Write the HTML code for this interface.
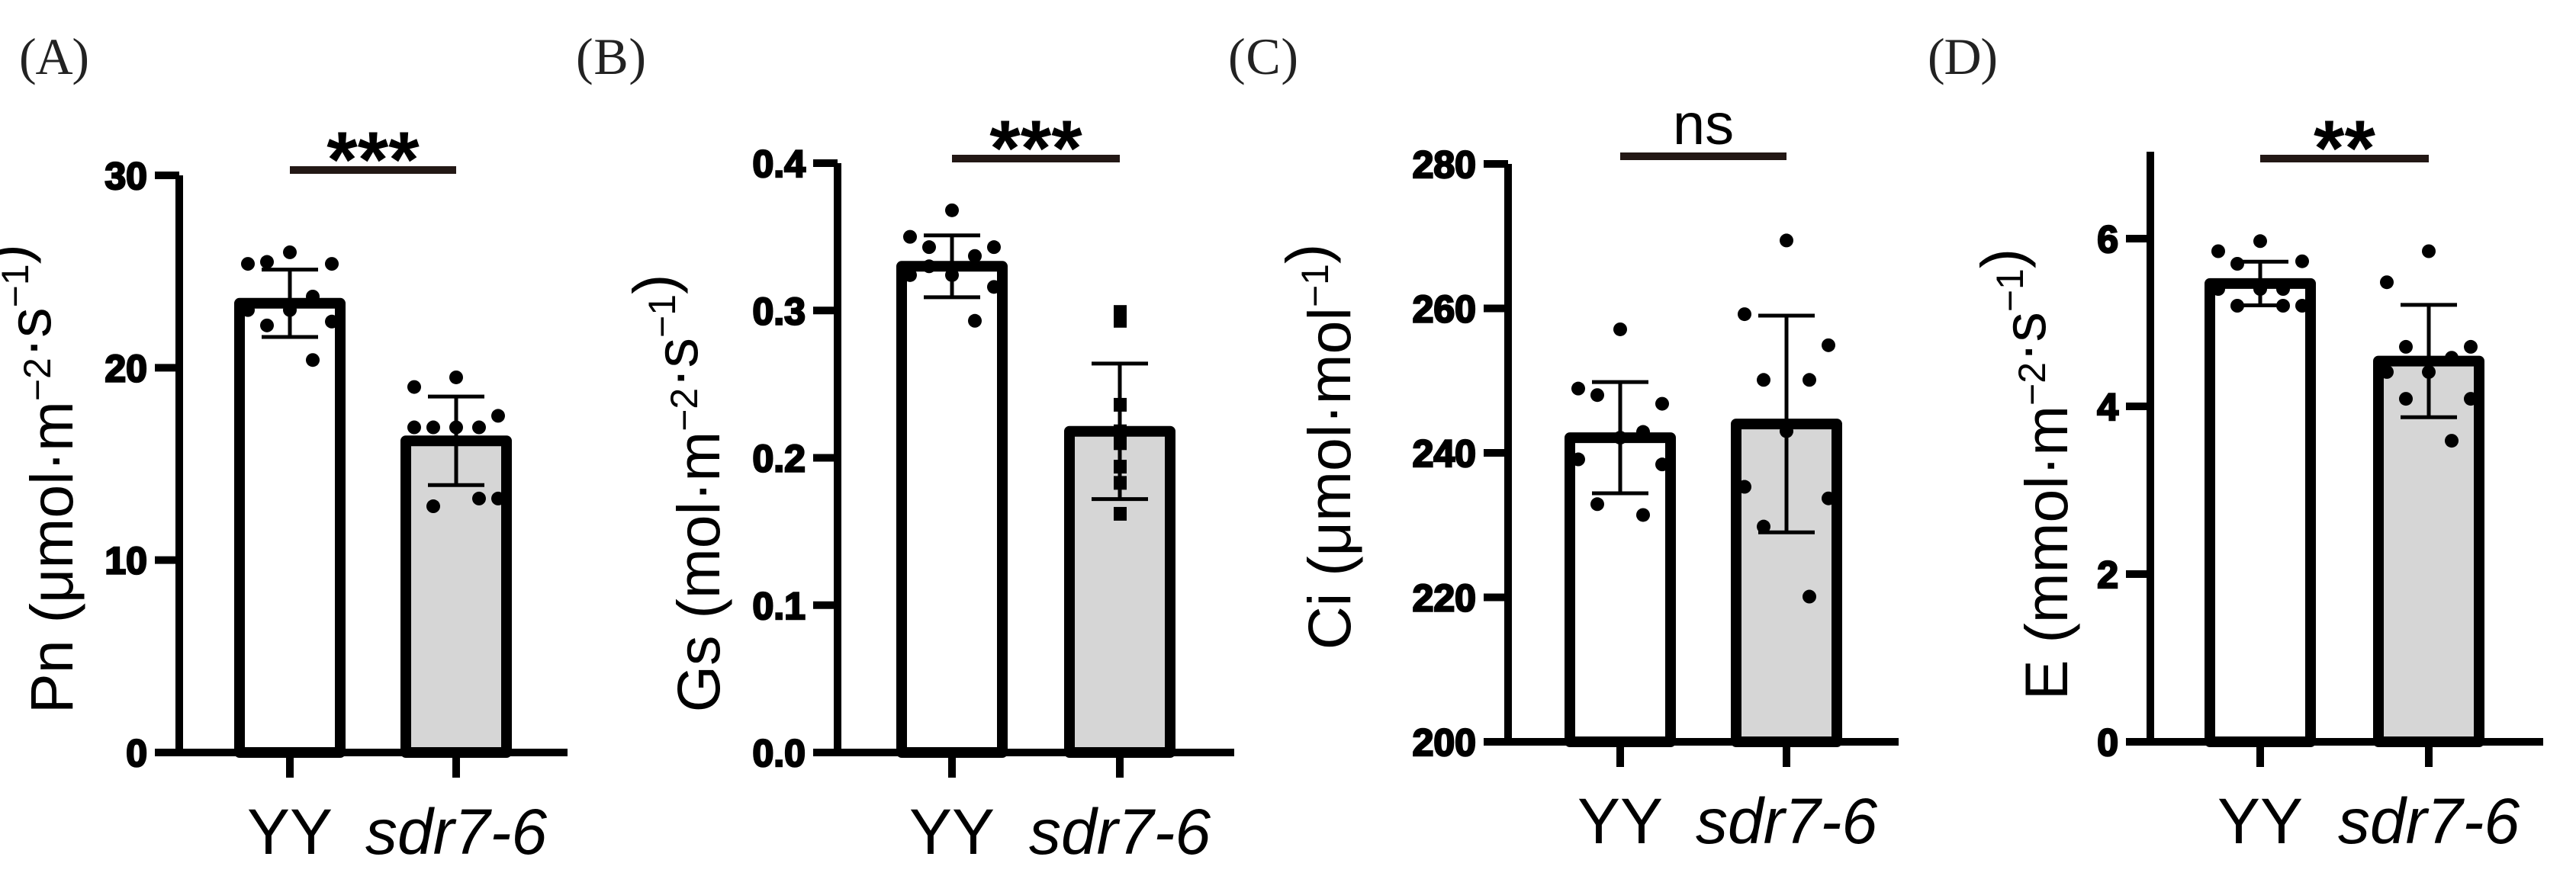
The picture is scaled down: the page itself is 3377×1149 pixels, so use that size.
<!DOCTYPE html>
<html><head><meta charset="utf-8"><style>
html,body{margin:0;padding:0;background:#fff}
svg{display:block}
</style></head><body>
<svg id="chart" width="3377" height="1149" viewBox="0 0 3377 1149" xmlns="http://www.w3.org/2000/svg"></svg>
<script>
const categories = ["YY", "sdr7-6"];
// Panel A: Pn
const pnMeans = [23.35, 16.2];
const pnSd = [1.75, 2.3];
const pnYY = [26.0, 25.4, 25.4, 25.5, 23.7, 23.0, 23.0, 22.4, 22.2, 20.4];
const pnSdr = [19.5, 19.0, 17.5, 16.9, 16.9, 16.9, 16.9, 13.2, 12.8, 13.2];
const pnTicks = [0, 10, 20, 30];
// Panel B: Gs
const gsMeans = [0.330, 0.218];
const gsSd = [0.021, 0.046];
const gsYY = [0.368, 0.350, 0.343, 0.343, 0.337, 0.324, 0.324, 0.316, 0.330, 0.293];
const gsSdr = [0.299, 0.293, 0.236, 0.217, 0.210, 0.210, 0.194, 0.183, 0.162, 0.218];
const gsTicks = [0.0, 0.1, 0.2, 0.3, 0.4];
const gsTickLabels = ["0.0", "0.1", "0.2", "0.3", "0.4"];
// Panel C: Ci
const ciMeans = [242.1, 244.0];
const ciSd = [7.7, 15.0];
const ciYY = [257.1, 248.9, 246.8, 248.0, 242.9, 242.1, 239.1, 238.4, 232.9, 231.4];
const ciSdr = [269.4, 259.2, 254.9, 250.1, 250.1, 243.0, 235.3, 233.7, 229.8, 220.1];
const ciTicks = [200, 220, 240, 260, 280];
// Panel D: E
const eMeans = [5.465, 4.54];
const eSd = [0.26, 0.67];
const eYY = [5.97, 5.85, 5.73, 5.70, 5.40, 5.40, 5.40, 5.20, 5.20, 5.20];
const eSdr = [5.85, 5.48, 4.71, 4.71, 4.58, 4.41, 4.41, 4.09, 4.09, 3.59];
const eTicks = [0, 2, 4, 6];

const NS = "http://www.w3.org/2000/svg";
const svg = document.getElementById("chart");
function mk(tag, attrs, parent){
  const el = document.createElementNS(NS, tag);
  for (const k in attrs) el.setAttribute(k, attrs[k]);
  (parent||svg).appendChild(el);
  return el;
}
const jitterYY = [0, -55, 55, -30, 30, 0, -55, 55, -30, 30];

function panel(cfg){
  const g = mk("g", {});
  
  
  const y = v => cfg.y0 - (v - cfg.min)/(cfg.max - cfg.min)*(cfg.y0 - cfg.yMaxPix);
  const ax = cfg.axisX;
  const bw = 132;
  [0,1].forEach(i=>{
    const cx = cfg.cx[i];
    const r = mk("rect", {x: cx-bw/2, y: y(cfg.means[i]), width: bw, height: cfg.y0 - y(cfg.means[i]), fill: i===0?"#ffffff":"#d6d6d6", stroke:"#000", "stroke-width":14, "stroke-linejoin":"round"}, g);
    
    
  });
  const yl = mk("line", {x1: ax, y1: cfg.axisTop, x2: ax, y2: cfg.y0+5, stroke:"#000","stroke-width":10}, g);
  
  
  const xl = mk("line", {x1: ax-5, y1: cfg.y0, x2: cfg.xEnd, y2: cfg.y0, stroke:"#000","stroke-width":10}, g);
  
  
  cfg.ticks.forEach((t,i)=>{
    const tl = mk("line", {x1: ax-32, y1: y(t), x2: ax, y2: y(t), stroke:"#000","stroke-width":10}, g);
    
    
    const tx = mk("text", {x: ax-42, y: y(t)+18, "text-anchor":"end", "font-family":"Liberation Sans, sans-serif", "font-weight":"bold", "font-size":50, stroke:"#000", "stroke-width":2.5, fill:"#000"}, g);
    tx.textContent = cfg.tickLabels ? cfg.tickLabels[i] : String(t);
    
    
  });
  [0,1].forEach(i=>{
    const cx = cfg.cx[i];
    const ct = mk("line", {x1: cx, y1: cfg.y0, x2: cx, y2: cfg.y0+33, stroke:"#000","stroke-width":10}, g);
    
    
    const lb = mk("text", {x: cx, y: cfg.y0+133, "text-anchor":"middle", "font-family":"Liberation Sans, sans-serif", "font-size":84, "font-style": i===1?"italic":"normal", fill:"#000"}, g);
    lb.textContent = categories[i];
    
    
  });
  [cfg.ptsYY, cfg.ptsSdr].forEach((pts,i)=>{
    pts.forEach((v,j)=>{
      const px = cfg.cx[i] + jitterYY[j];
      let p;
      if (cfg.square && i===1) p = mk("rect", {x: cfg.cx[i]-8, y: y(v)-9, width:17, height:18, fill:"#000"}, g);
      else p = mk("circle", {cx: px, cy: y(v), r: 9, fill:"#000"}, g);
      
      
    });
  });
  [0,1].forEach(i=>{
    const cx = cfg.cx[i], hi = y(cfg.means[i]+cfg.sd[i]), lo = y(cfg.means[i]-cfg.sd[i]);
    const e = mk("path", {d:`M${cx},${hi}V${lo}M${cx-37},${hi}H${cx+37}M${cx-37},${lo}H${cx+37}`, stroke:"#000","stroke-width":5, fill:"none"}, g);
    
    
  });
  const sb = mk("line", {x1: cfg.cx[0], y1: cfg.sigY, x2: cfg.cx[1], y2: cfg.sigY, stroke:"#231815","stroke-width":10}, g);
  
  
  const st = mk("text", {x:(cfg.cx[0]+cfg.cx[1])/2, y: cfg.sig==="ns"? cfg.sigY-16 : cfg.sigY+22, "text-anchor":"middle", "font-family":"Liberation Sans, sans-serif", "font-weight": cfg.sig==="ns"?"normal":"bold", "font-size": cfg.sig==="ns"?76:104, fill:"#000"}, g);
  st.textContent = cfg.sig;
  
  
  const yt = mk("text", {transform:`translate(${cfg.titleX},${cfg.titleY}) rotate(-90)`, "text-anchor":"middle", "font-family":"Liberation Sans, sans-serif", "font-size":79, fill:"#000"}, g);
  yt.innerHTML = cfg.title;
  
  
  const pl = mk("text", {x: cfg.letterX, y: 97, "font-family":"Liberation Serif, Noto Serif CJK SC, serif", "font-size":68, textLength:92, fill:"#222"}, g);
  pl.textContent = cfg.letter;
  
  
}
const sup = s => `<tspan dy="-29" font-size="50">${s}</tspan><tspan dy="29"></tspan>`;
panel({name:"panel-a-pn", letter:"(A)", letterX:25, axisX:235, y0:987, yMaxPix:230, axisTop:230, min:0, max:30, xEnd:744, cx:[380,598],
  means:pnMeans, sd:pnSd, ptsYY:pnYY, ptsSdr:pnSdr, ticks:pnTicks, sigY:223, sig:"***",
  title:`Pn (μmol·m${sup("−2")}·s${sup("−1")})`, titleX:95, titleY:628});
panel({name:"panel-b-gs", letter:"(B)", letterX:755, axisX:1098, y0:987, yMaxPix:214, axisTop:214, min:0, max:0.4, xEnd:1618, cx:[1248,1468],
  means:gsMeans, sd:gsSd, ptsYY:gsYY, ptsSdr:gsSdr, ticks:gsTicks, tickLabels:gsTickLabels, sigY:208, sig:"***", square:true,
  title:`Gs (mol·m${sup("−2")}·s${sup("−1")})`, titleX:943, titleY:647});
panel({name:"panel-c-ci", letter:"(C)", letterX:1610, axisX:1977, y0:973, yMaxPix:215, axisTop:215, min:200, max:280, xEnd:2489, cx:[2124,2342],
  means:ciMeans, sd:ciSd, ptsYY:ciYY, ptsSdr:ciSdr, ticks:ciTicks, sigY:205, sig:"ns",
  title:`Ci (μmol·mol${sup("−1")})`, titleX:1770, titleY:586});
panel({name:"panel-d-e", letter:"(D)", letterX:2527, axisX:2819, y0:973, yMaxPix:313, axisTop:199, min:0, max:6, xEnd:3334, cx:[2963,3184],
  means:eMeans, sd:eSd, ptsYY:eYY, ptsSdr:eSdr, ticks:eTicks, sigY:208, sig:"**",
  title:`E (mmol·m${sup("−2")}·s${sup("−1")})`, titleX:2710, titleY:622});
</script>
</body></html>
